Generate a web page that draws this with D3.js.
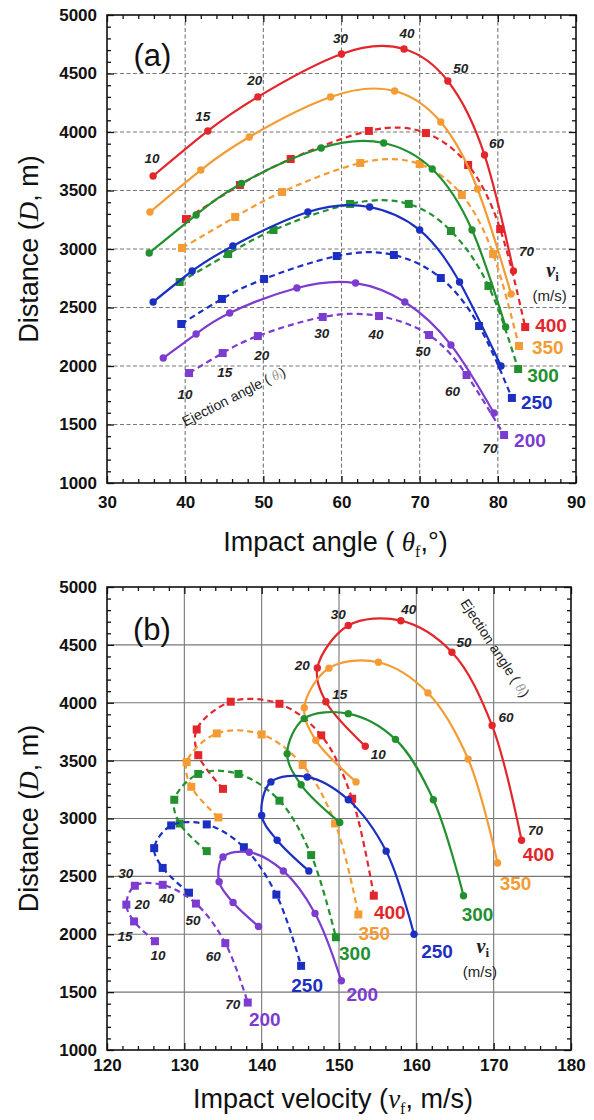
<!DOCTYPE html>
<html>
<head>
<meta charset="utf-8">
<script src="https://cdn.jsdelivr.net/npm/d3@7"></script>
<style>
  body { margin: 0; background: #fff; }
  svg text { font-family: Arial, "Liberation Sans", sans-serif; }
</style>
</head>
<body>
<svg id="chart" width="594" height="1120"></svg>
<script>
// ejection angle of each point (deg) and launch speeds v_i (m/s)
const ejectionAngles = [10, 15, 20, 30, 40, 50, 60, 70];
const launchSpeeds = [400, 350, 300, 250, 200];
const speedColors = ["#e3262c", "#f59b34", "#22902f", "#1b2fc2", "#7b3ccf"];

// solid curves, circles (rows follow launchSpeeds)
const solidDistance = [
  [3624, 4009, 4300, 4667, 4709, 4436, 3803, 2812],
  [3316, 3675, 3957, 4299, 4350, 4085, 3513, 2615],
  [2966, 3291, 3560, 3863, 3906, 3684, 3162, 2333],
  [2547, 2812, 3026, 3316, 3359, 3162, 2718, 2000],
  [2068, 2274, 2453, 2667, 2709, 2547, 2180, 1598]
];
const solidImpactAngle = [
  [35.9, 42.9, 49.3, 60.0, 68.0, 73.6, 78.3, 82.0],
  [35.5, 42.0, 48.2, 58.6, 66.8, 72.7, 77.4, 81.7],
  [35.4, 41.4, 47.2, 57.4, 65.4, 71.6, 76.7, 81.0],
  [35.9, 40.9, 46.1, 55.7, 63.6, 70.0, 75.1, 80.4],
  [37.2, 41.4, 45.7, 54.3, 61.8, 68.1, 74.0, 79.5]
];
const solidImpactVelocity = [
  [153.4, 148.3, 147.2, 151.2, 158.0, 164.6, 169.8, 173.6],
  [152.2, 147.0, 145.5, 148.7, 155.1, 161.5, 166.7, 170.5],
  [150.1, 145.1, 143.3, 145.5, 151.2, 157.3, 162.2, 166.1],
  [146.1, 142.0, 140.0, 141.2, 145.9, 151.2, 156.1, 159.7],
  [139.6, 136.3, 134.5, 135.0, 138.4, 142.8, 146.9, 150.3]
];

// dashed curves, squares
const dashedDistance = [
  [3256, 3547, 3769, 4009, 3991, 3718, 3171, 2333],
  [3009, 3274, 3487, 3735, 3726, 3462, 2957, 2171],
  [2718, 2957, 3162, 3385, 3385, 3154, 2684, 1974],
  [2359, 2573, 2744, 2940, 2949, 2752, 2342, 1727],
  [1940, 2111, 2256, 2419, 2427, 2265, 1923, 1410]
];
const dashedImpactAngle = [
  [40.1, 47.0, 53.5, 63.5, 70.8, 76.2, 80.3, 83.5],
  [39.6, 46.4, 52.4, 62.4, 70.0, 75.4, 79.4, 82.7],
  [39.3, 45.5, 51.3, 61.1, 68.6, 74.0, 78.8, 82.6],
  [39.5, 44.7, 50.1, 59.4, 66.7, 72.7, 77.6, 81.8],
  [40.5, 44.8, 49.3, 57.6, 64.8, 71.2, 76.0, 80.8]
];
const dashedImpactVelocity = [
  [135.0, 131.8, 131.6, 136.0, 142.3, 147.7, 151.7, 154.5],
  [134.4, 130.9, 130.3, 134.2, 140.0, 145.3, 149.5, 152.5],
  [132.9, 129.4, 128.7, 131.8, 137.0, 142.3, 146.4, 149.6],
  [130.6, 127.2, 126.1, 128.3, 132.9, 137.7, 141.9, 145.1],
  [126.2, 123.5, 122.5, 123.6, 127.2, 131.5, 135.3, 138.2]
];

//build the series from the arrays
let series = [];
launchSpeeds.forEach(function (v, k) {
  series.push({speed: v, k: k, dashed: false, pts: ejectionAngles.map(function (a, i) {
    return {theta: a, D: solidDistance[k][i], angle: solidImpactAngle[k][i], vel: solidImpactVelocity[k][i]};
  })});
  series.push({speed: v, k: k, dashed: true, pts: ejectionAngles.map(function (a, i) {
    return {theta: a, D: dashedDistance[k][i], angle: dashedImpactAngle[k][i], vel: dashedImpactVelocity[k][i]};
  })});
});

const svg = d3.select("#chart");
const serif = "'Liberation Serif', 'DejaVu Serif', serif";

function drawPanel(p) {
  let x = d3.scaleLinear().domain(p.xDomain).range([p.left, p.right]);
  let y = d3.scaleLinear().domain([1000, 5000]).range([p.bottom, p.top]);
  let g = svg.append("g");

  //grid lines
  let grid = g.append("g")
    .attr("stroke", p.gridColor)
    .attr("stroke-width", 1.1)
    .attr("stroke-dasharray", p.gridDash);
  grid.selectAll(".gx").data(d3.range(p.xDomain[0] + 10, p.xDomain[1], 10)).join("line")
    .attr("x1", d => x(d)).attr("x2", d => x(d)).attr("y1", p.top).attr("y2", p.bottom);
  grid.selectAll(".gy").data(d3.range(1500, 5000, 500)).join("line")
    .attr("y1", d => y(d)).attr("y2", d => y(d)).attr("x1", p.left).attr("x2", p.right);

  //axes: major + minor ticks on all sides, pointing inward
  let majX = d3.range(p.xDomain[0], p.xDomain[1] + 1, 10);
  let minX = d3.range(p.xDomain[0], p.xDomain[1], 2).filter(v => (v - p.xDomain[0]) % 10 !== 0);
  let majY = d3.range(1000, 5001, 500);
  let minY = d3.range(1000, 5000, 100).filter(v => v % 500 !== 0);

  function addAxis(axis, tx, ty) {
    let a = g.append("g").attr("transform", "translate(" + tx + "," + ty + ")").call(axis);
    a.select(".domain").remove();
    a.selectAll("line").attr("stroke", "#111").attr("stroke-width", 1.3);
    a.selectAll("text")
      .style("font-size", "17px")
      .style("font-weight", "bold")
      .attr("fill", "#111");
    return a;
  }
  addAxis(d3.axisBottom(x).tickValues(majX).tickSize(-7).tickPadding(p.xPad).tickFormat(d3.format("d")), 0, p.bottom);
  addAxis(d3.axisBottom(x).tickValues(minX).tickSize(-4).tickFormat(""), 0, p.bottom);
  addAxis(d3.axisTop(x).tickValues(majX).tickSize(-7).tickFormat(""), 0, p.top);
  addAxis(d3.axisTop(x).tickValues(minX).tickSize(-4).tickFormat(""), 0, p.top);
  addAxis(d3.axisLeft(y).tickValues(majY).tickSize(-7).tickPadding(10).tickFormat(d3.format("d")), p.left, 0);
  addAxis(d3.axisLeft(y).tickValues(minY).tickSize(-4).tickFormat(""), p.left, 0);
  addAxis(d3.axisRight(y).tickValues(majY).tickSize(-7).tickFormat(""), p.right, 0);
  addAxis(d3.axisRight(y).tickValues(minY).tickSize(-4).tickFormat(""), p.right, 0);

  g.append("rect")
    .attr("x", p.left).attr("y", p.top)
    .attr("width", p.right - p.left).attr("height", p.bottom - p.top)
    .attr("fill", "none").attr("stroke", "#111").attr("stroke-width", 1.6);

  //curves
  let line = d3.line()
    .x(d => x(d[p.xKey]))
    .y(d => y(d.D))
    .curve(p.curve);

  let wrap = g.selectAll(".series").data(series).join("g").attr("class", "series");
  wrap.append("path")
    .attr("d", d => line(d.pts))
    .attr("fill", "none")
    .attr("stroke", d => speedColors[d.k])
    .attr("stroke-width", 2.2)
    .attr("stroke-dasharray", d => d.dashed ? "6,4" : null);

  wrap.each(function (s) {
    let sel = d3.select(this);
    if (s.dashed) {
      sel.selectAll("rect").data(s.pts).join("rect")
        .attr("x", d => x(d[p.xKey]) - 4).attr("y", d => y(d.D) - 4)
        .attr("width", 8).attr("height", 8)
        .attr("fill", speedColors[s.k]);
    } else {
      sel.selectAll("circle").data(s.pts).join("circle")
        .attr("cx", d => x(d[p.xKey])).attr("cy", d => y(d.D))
        .attr("r", 3.7)
        .attr("fill", speedColors[s.k]);
    }
  });

  //ejection angle numbers next to two of the curves
  p.angleLabels.forEach(function (lab) {
    let s = series.find(d => d.speed === lab.speed && d.dashed === lab.dashed);
    g.append("g").selectAll("text").data(s.pts).join("text")
      .attr("x", (d, i) => x(d[p.xKey]) + lab.offsets[i][0])
      .attr("y", (d, i) => y(d.D) + lab.offsets[i][1])
      .attr("text-anchor", "middle")
      .attr("dominant-baseline", "central")
      .style("font-size", "13.5px")
      .style("font-weight", "bold")
      .style("font-style", "italic")
      .attr("fill", "#222")
      .text(d => d.theta);
  });

  //speed labels at the end of curves
  p.speedLabels.forEach(function (lab) {
    series.filter(d => d.dashed === lab.dashed).forEach(function (s) {
      let last = s.pts[s.pts.length - 1];
      let off = lab.offsets[s.k];
      g.append("text")
        .attr("x", x(last[p.xKey]) + off[0])
        .attr("y", y(last.D) + off[1])
        .attr("text-anchor", lab.anchor)
        .attr("dominant-baseline", "central")
        .style("font-size", "19px")
        .style("font-weight", "bold")
        .attr("fill", speedColors[s.k])
        .text(s.speed);
    });
  });

  //panel letter
  g.append("text")
    .attr("x", x(p.letterAt[0])).attr("y", y(p.letterAt[1]))
    .attr("text-anchor", "middle").attr("dominant-baseline", "central")
    .style("font-size", "31px")
    .attr("fill", "#111")
    .text(p.letter);

  //v_i (m/s)
  let vi = g.append("text")
    .attr("x", x(p.viAt[0])).attr("y", y(p.viAt[1]))
    .attr("text-anchor", "middle")
    .attr("fill", "#222");
  vi.append("tspan")
    .style("font-family", serif)
    .style("font-style", "italic").style("font-weight", "bold")
    .style("font-size", "20px").text("v");
  vi.append("tspan")
    .style("font-family", serif)
    .style("font-size", "13px").style("font-weight", "bold")
    .attr("dy", 4).text("i");
  g.append("text")
    .attr("x", x(p.viAt[0]) - 3).attr("y", y(p.viAt[1]) + 24)
    .attr("text-anchor", "middle")
    .style("font-size", "15px")
    .attr("fill", "#222")
    .text("(m/s)");

  //ejection angle caption
  let ej = g.append("text")
    .attr("transform", "translate(" + x(p.ejAt[0]) + "," + y(p.ejAt[1]) + ") rotate(" + p.ejRot + ")")
    .attr("text-anchor", "middle")
    .attr("dominant-baseline", "central")
    .style("font-size", "14px")
    .attr("fill", "#222");
  ej.append("tspan").text("Ejection angle ( ");
  ej.append("tspan").attr("fill", "#999")
    .style("font-family", serif).style("font-style", "italic").text("θ");
  ej.append("tspan").attr("fill", "#999").style("font-size", "9px").attr("dy", 3).text("i");
  ej.append("tspan").attr("dy", -3).text(")");

  //axis titles
  let xt = g.append("text")
    .attr("x", (p.left + p.right) / 2 - 6).attr("y", p.xTitleY)
    .attr("text-anchor", "middle")
    .style("font-size", "27px")
    .attr("fill", "#111");
  p.xTitle(xt);

  let yt = g.append("text")
    .attr("transform", "translate(38," + (p.top + p.bottom) / 2 + ") rotate(-90)")
    .attr("text-anchor", "middle")
    .style("font-size", "27px")
    .attr("fill", "#111");
  yt.append("tspan").text("Distance (");
  yt.append("tspan").style("font-family", serif).style("font-style", "italic").text("D");
  yt.append("tspan").text(", m)");
}

drawPanel({
  xDomain: [30, 90], xKey: "angle",
  left: 107, right: 576, top: 15, bottom: 483,
  xPad: 13,
  gridColor: "#777", gridDash: "4,2.5",
  curve: d3.curveNatural,
  letter: "(a)", letterAt: [35.8, 4658],
  viAt: [87.0, 2760],
  ejAt: [46.2, 1740], ejRot: -27,
  xTitleY: 551,
  xTitle: function (t) {
    t.append("tspan").text("Impact angle ( ");
    t.append("tspan").style("font-family", serif).style("font-style", "italic").text("θ");
    t.append("tspan").style("font-family", serif).style("font-size", "16px").attr("dy", 6).text("f");
    t.append("tspan").attr("dy", -6).text(",°)");
  },
  angleLabels: [
    {speed: 400, dashed: false, offsets: [[-1, -17], [-5, -14], [-3, -16], [-1, -15], [3, -16], [13, -12], [12, -12], [13, -19]]},
    {speed: 200, dashed: true, offsets: [[-4, 21], [2, 19], [4, 19], [-1, 17], [-3, 18], [-6, 17], [-14, 16], [-14, 13]]}
  ],
  speedLabels: [
    {dashed: true, anchor: "start", offsets: [[10, -2], [13, 2], [9, 6], [9, 5], [10, 5]]}
  ]
});

drawPanel({
  xDomain: [120, 180], xKey: "vel",
  left: 107, right: 571, top: 587, bottom: 1050,
  xPad: 9,
  gridColor: "#777", gridDash: null,
  curve: d3.curveCatmullRom,
  letter: "(b)", letterAt: [125.8, 4629],
  viAt: [168.6, 1840],
  ejAt: [170.2, 4473], ejRot: 57,
  xTitleY: 1108,
  xTitle: function (t) {
    t.append("tspan").text("Impact velocity (");
    t.append("tspan").style("font-family", serif).style("font-style", "italic").text("v");
    t.append("tspan").style("font-family", serif).style("font-size", "16px").attr("dy", 6).text("f");
    t.append("tspan").attr("dy", -6).text(", m/s)");
  },
  angleLabels: [
    {speed: 400, dashed: false, offsets: [[13, 8], [14, -7], [-15, -3], [-10, -11], [8, -11], [12, -10], [14, -8], [14, -10]]},
    {speed: 200, dashed: true, offsets: [[3, 14], [-9, 15], [16, 0], [-9, -12], [4, 14], [-3, 17], [-12, 13], [-15, 2]]}
  ],
  speedLabels: [
    {dashed: false, anchor: "middle", offsets: [[17, 14], [18, 20], [14, 19], [23, 17], [21, 14]]},
    {dashed: true, anchor: "middle", offsets: [[16, 17], [16, 19], [19, 16], [6, 20], [17, 17]]}
  ]
});
</script>
</body>
</html>
